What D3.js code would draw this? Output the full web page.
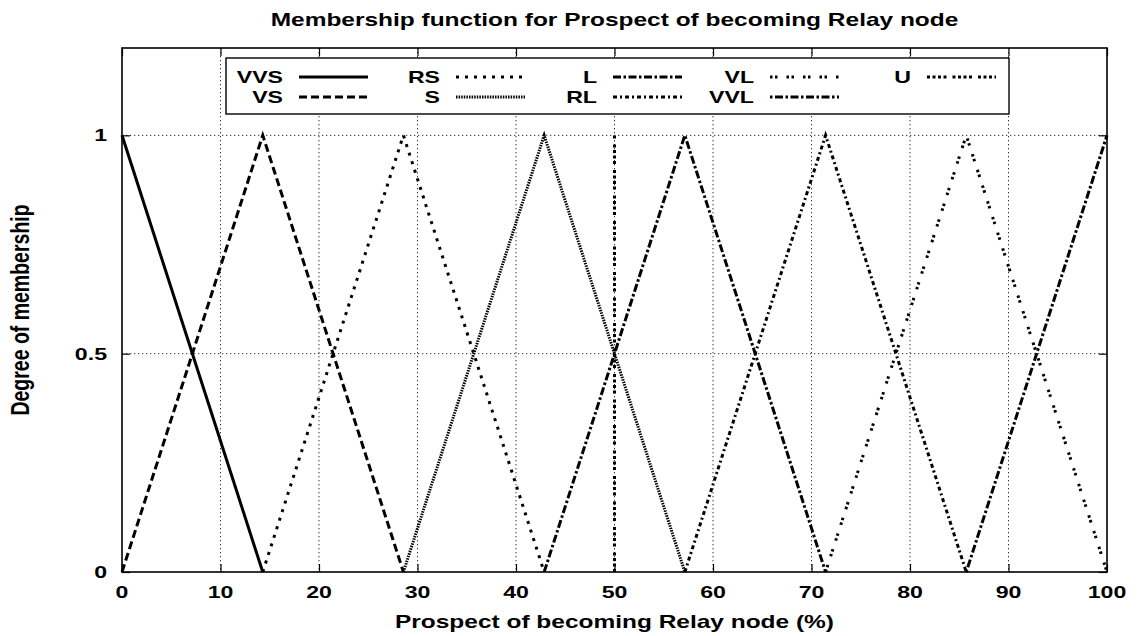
<!DOCTYPE html>
<html>
<head>
<meta charset="utf-8">
<script src="https://cdn.jsdelivr.net/npm/d3@7"></script>
<style>
  html, body { margin: 0; padding: 0; background: #fff; }
  svg { display: block; }
  text { font-family: "Liberation Sans", Arial, Helvetica, sans-serif; font-weight: bold; fill: #000; }
</style>
</head>
<body>
<svg id="chart" width="1146" height="636"></svg>
<script>
// Membership functions: breakpoints (x in %, membership degree)
const seriesNames = ["VVS", "VS", "RS", "S", "L", "RL", "VL", "VVL", "U"];
const vvsPoints = [[0, 1], [14.29, 0]];
const vsPoints  = [[0, 0], [14.29, 1], [28.57, 0]];
const rsPoints  = [[14.29, 0], [28.57, 1], [42.86, 0]];
const sPoints   = [[28.57, 0], [42.86, 1], [57.14, 0]];
const lPoints   = [[42.86, 0], [57.14, 1], [71.43, 0]];
const rlPoints  = [[57.14, 0], [71.43, 1], [85.71, 0]];
const vlPoints  = [[71.43, 0], [85.71, 1], [100, 0]];
const vvlPoints = [[85.71, 0], [100, 1]];
const uPoints   = [[50, 0], [50, 1]];

const xTicks = [0, 10, 20, 30, 40, 50, 60, 70, 80, 90, 100];
const yTicks = [0, 0.5, 1];
const xDomain = [0, 100];
const yDomain = [0, 1.2];

// line styles per series
const dashes = {
  VVS: null,
  VS:  "8,4",
  RS:  "3,6",
  S:   "1.5,1.1",
  L:   "8,2.5,2.5,2.5",
  RL:  "4,3,2,3",
  VL:  "2.5,2.5,2.5,9",
  VVL: "2.5,2.5,8,2.5",
  U:   "3,2.5,3,2.5,3,2.5,3,6"
};

const pointsByName = {
  VVS: vvsPoints, VS: vsPoints, RS: rsPoints, S: sPoints, L: lPoints,
  RL: rlPoints, VL: vlPoints, VVL: vvlPoints, U: uPoints
};

const W = 1146, H = 636;
const m = { left: 122, top: 48, right: 39, bottom: 64 };
const pw = W - m.left - m.right;
const ph = H - m.top - m.bottom;
const sx = 1.36; // horizontal widening of the lettering

const svg = d3.select("#chart");
const g = svg.append("g").attr("transform", `translate(${m.left},${m.top})`);

const x = d3.scaleLinear().domain(xDomain).range([0, pw]);
const y = d3.scaleLinear().domain(yDomain).range([ph, 0]);

// grid
g.append("g").selectAll("line")
  .data(xTicks.filter(d => d > xDomain[0] && d < xDomain[1]))
  .join("line")
  .attr("x1", d => x(d)).attr("x2", d => x(d))
  .attr("y1", 0).attr("y2", ph)
  .attr("stroke", "#333").attr("stroke-width", 1)
  .attr("stroke-dasharray", "1.3,2.7");
g.append("g").selectAll("line")
  .data(yTicks.filter(d => d > yDomain[0]))
  .join("line")
  .attr("x1", 0).attr("x2", pw)
  .attr("y1", d => y(d)).attr("y2", d => y(d))
  .attr("stroke", "#333").attr("stroke-width", 1)
  .attr("stroke-dasharray", "1.3,2.7");

// axes with inward ticks on all four sides
const tickLen = 8;
const xAxisB = d3.axisBottom(x).tickValues(xTicks).tickSize(-tickLen).tickFormat("");
const xAxisT = d3.axisTop(x).tickValues(xTicks).tickSize(-tickLen).tickFormat("");
const yAxisL = d3.axisLeft(y).tickValues(yTicks).tickSize(-tickLen).tickFormat("");
const yAxisR = d3.axisRight(y).tickValues(yTicks).tickSize(-tickLen).tickFormat("");
[
  g.append("g").attr("transform", `translate(0,${ph})`).call(xAxisB),
  g.append("g").call(xAxisT),
  g.append("g").call(yAxisL),
  g.append("g").attr("transform", `translate(${pw},0)`).call(yAxisR)
].forEach(a => {
  a.select(".domain").remove();
  a.selectAll(".tick line").attr("stroke", "#000").attr("stroke-width", 1.2);
});

// frame
g.append("rect").attr("x", 0).attr("y", 0).attr("width", pw).attr("height", ph)
  .attr("fill", "none").attr("stroke", "#000").attr("stroke-width", 1.6);

// tick labels
g.append("g").selectAll("text")
  .data(xTicks).join("text")
  .attr("transform", d => `translate(${x(d)},${ph + 26}) scale(${sx},1)`)
  .attr("text-anchor", "middle")
  .style("font-size", "17px")
  .text(d => d3.format("~g")(d));
g.append("g").selectAll("text")
  .data(yTicks).join("text")
  .attr("transform", d => `translate(-15,${y(d) + 6}) scale(${sx},1)`)
  .attr("text-anchor", "end")
  .style("font-size", "17px")
  .text(d => d3.format("~g")(d));

// data lines
const line = d3.line().x(d => x(d[0])).y(d => y(d[1]));
g.append("g").selectAll("path")
  .data(seriesNames).join("path")
  .attr("d", n => line(pointsByName[n]))
  .attr("fill", "none").attr("stroke", "#000")
  .attr("stroke-width", 3)
  .attr("stroke-linejoin", "miter")
  .attr("stroke-dasharray", n => dashes[n]);

// legend
const legX0 = 226 - m.left, legY0 = 58 - m.top, legW = 1009 - 226, legH = 56;
const leg = g.append("g");
leg.append("rect").attr("x", legX0).attr("y", legY0).attr("width", legW).attr("height", legH)
  .attr("fill", "#fff").attr("stroke", "#000").attr("stroke-width", 1.4);
const colTextRight = [283, 440, 597, 754, 911].map(v => v - m.left);
const rowY = [77 - m.top, 97 - m.top];
seriesNames.forEach((n, i) => {
  const col = Math.floor(i / 2), row = i % 2;
  const tx = colTextRight[col], ty = rowY[row];
  leg.append("text")
    .attr("transform", `translate(${tx},${ty + 6}) scale(${sx},1)`)
    .attr("text-anchor", "end")
    .style("font-size", "17px")
    .text(n);
  leg.append("line")
    .attr("x1", tx + 16).attr("x2", tx + 85)
    .attr("y1", ty).attr("y2", ty)
    .attr("stroke", "#000").attr("stroke-width", 3)
    .attr("stroke-dasharray", dashes[n]);
});

// titles
svg.append("text")
  .attr("transform", `translate(${m.left + pw / 2},26) scale(${sx},1)`)
  .attr("text-anchor", "middle")
  .style("font-size", "18px")
  .text("Membership function for Prospect of becoming Relay node");
svg.append("text")
  .attr("transform", `translate(${m.left + pw / 2},628) scale(${sx},1)`)
  .attr("text-anchor", "middle")
  .style("font-size", "18px")
  .text("Prospect of becoming Relay node (%)");
svg.append("text")
  .attr("transform", `translate(29,${m.top + ph / 2}) scale(${sx},1) rotate(-90)`)
  .attr("text-anchor", "middle")
  .style("font-size", "19.5px")
  .text("Degree of membership");
</script>
</body>
</html>
